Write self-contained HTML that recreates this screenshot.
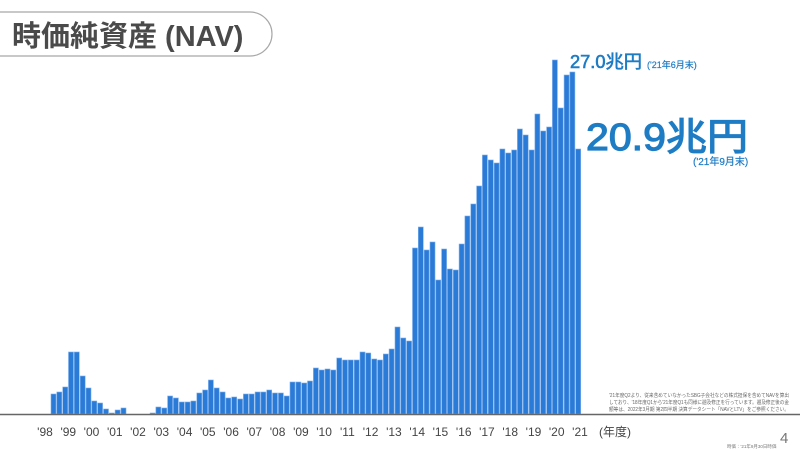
<!DOCTYPE html>
<html><head><meta charset="utf-8"><style>
html,body{margin:0;padding:0;background:#fff;}
svg{display:block;}
</style></head><body>
<svg width="800" height="450" viewBox="0 0 800 450" xmlns="http://www.w3.org/2000/svg" font-family="Liberation Sans, Noto Sans CJK JP, sans-serif">
<rect width="800" height="450" fill="#fff"/>
<path d="M-10 12 H250 A22 22 0 0 1 250 56 H-10" fill="#fff" stroke="#a8a8a8" stroke-width="1.2"/>
<text x="12" y="46" font-size="29" font-weight="bold" fill="#4a4a4a">時価純資産 (NAV)</text>
<g fill="#2a7ad8" stroke="#7fb0ea" stroke-width="0.6">
<rect x="51" y="394" width="5" height="20"/><rect x="56.8" y="392" width="5" height="22"/><rect x="62.7" y="387" width="5" height="27"/><rect x="68.5" y="352" width="5" height="62"/><rect x="74.3" y="352" width="5" height="62"/><rect x="80.2" y="376" width="5" height="38"/><rect x="86" y="388" width="5" height="26"/><rect x="91.8" y="401" width="5" height="13"/><rect x="97.6" y="403" width="5" height="11"/><rect x="103.5" y="409" width="5" height="5"/><rect x="109.3" y="413" width="5" height="1"/><rect x="115.1" y="410" width="5" height="4"/><rect x="121" y="408" width="5" height="6"/>
<rect x="150.1" y="413" width="5" height="1"/><rect x="155.9" y="407" width="5" height="7"/><rect x="161.8" y="408" width="5" height="6"/><rect x="167.6" y="396" width="5" height="18"/><rect x="173.4" y="398" width="5" height="16"/><rect x="179.3" y="402" width="5" height="12"/><rect x="185.1" y="402" width="5" height="12"/><rect x="190.9" y="401" width="5" height="13"/><rect x="196.8" y="393" width="5" height="21"/><rect x="202.6" y="390" width="5" height="24"/><rect x="208.4" y="380" width="5" height="34"/><rect x="214.2" y="388" width="5" height="26"/><rect x="220.1" y="392" width="5" height="22"/><rect x="225.9" y="398" width="5" height="16"/><rect x="231.7" y="397" width="5" height="17"/><rect x="237.6" y="399" width="5" height="15"/><rect x="243.4" y="394" width="5" height="20"/><rect x="249.2" y="394" width="5" height="20"/><rect x="255.1" y="392" width="5" height="22"/><rect x="260.9" y="392" width="5" height="22"/><rect x="266.7" y="390" width="5" height="24"/><rect x="272.5" y="393" width="5" height="21"/><rect x="278.4" y="393" width="5" height="21"/><rect x="284.2" y="396" width="5" height="18"/><rect x="290" y="382" width="5" height="32"/><rect x="295.9" y="382" width="5" height="32"/><rect x="301.7" y="383" width="5" height="31"/><rect x="307.5" y="381" width="5" height="33"/><rect x="313.4" y="368" width="5" height="46"/><rect x="319.2" y="370" width="5" height="44"/><rect x="325" y="369" width="5" height="45"/><rect x="330.8" y="370" width="5" height="44"/><rect x="336.7" y="358" width="5" height="56"/><rect x="342.5" y="360" width="5" height="54"/><rect x="348.3" y="360" width="5" height="54"/><rect x="354.2" y="360" width="5" height="54"/><rect x="360" y="352" width="5" height="62"/><rect x="365.8" y="353" width="5" height="61"/><rect x="371.7" y="359" width="5" height="55"/><rect x="377.5" y="360" width="5" height="54"/><rect x="383.3" y="354" width="5" height="60"/><rect x="389.1" y="349" width="5" height="65"/><rect x="395" y="327" width="5" height="87"/><rect x="400.8" y="338" width="5" height="76"/><rect x="406.6" y="341" width="5" height="73"/><rect x="412.5" y="248" width="5" height="166"/><rect x="418.3" y="227" width="5" height="187"/><rect x="424.1" y="250" width="5" height="164"/><rect x="430" y="242" width="5" height="172"/><rect x="435.8" y="280" width="5" height="134"/><rect x="441.6" y="249" width="5" height="165"/><rect x="447.4" y="269" width="5" height="145"/><rect x="453.3" y="270" width="5" height="144"/><rect x="459.1" y="244" width="5" height="170"/><rect x="464.9" y="216" width="5" height="198"/><rect x="470.8" y="204" width="5" height="210"/><rect x="476.6" y="186" width="5" height="228"/><rect x="482.4" y="155" width="5" height="259"/><rect x="488.3" y="160" width="5" height="254"/><rect x="494.1" y="163" width="5" height="251"/><rect x="499.9" y="149" width="5" height="265"/><rect x="505.7" y="153" width="5" height="261"/><rect x="511.6" y="150" width="5" height="264"/><rect x="517.4" y="129" width="5" height="285"/><rect x="523.2" y="135" width="5" height="279"/><rect x="529.1" y="150" width="5" height="264"/><rect x="534.9" y="114" width="5" height="300"/><rect x="540.7" y="131" width="5" height="283"/><rect x="546.6" y="127" width="5" height="287"/><rect x="552.4" y="60" width="5" height="354"/><rect x="558.2" y="108" width="5" height="306"/><rect x="564.1" y="75" width="5" height="339"/><rect x="569.9" y="72" width="5" height="342"/><rect x="575.7" y="149" width="5" height="265"/>
</g>
<line x1="0" y1="414.5" x2="800" y2="414.5" stroke="#666" stroke-width="1.6"/>
<g font-size="12" fill="#444" text-anchor="middle">
<text x="45" y="436">'98</text><text x="68.3" y="436">'99</text><text x="91.5" y="436">'00</text><text x="114.8" y="436">'01</text><text x="138" y="436">'02</text><text x="161.3" y="436">'03</text><text x="184.6" y="436">'04</text><text x="207.8" y="436">'05</text><text x="231.1" y="436">'06</text><text x="254.3" y="436">'07</text><text x="277.6" y="436">'08</text><text x="300.9" y="436">'09</text><text x="324.1" y="436">'10</text><text x="347.4" y="436">'11</text><text x="370.6" y="436">'12</text><text x="393.9" y="436">'13</text><text x="417.2" y="436">'14</text><text x="440.4" y="436">'15</text><text x="463.7" y="436">'16</text><text x="486.9" y="436">'17</text><text x="510.2" y="436">'18</text><text x="533.5" y="436">'19</text><text x="556.7" y="436">'20</text><text x="580" y="436">'21</text>
</g>
<text x="599" y="436" font-size="12" fill="#444">(年度)</text>
<text x="780" y="443" font-size="15" fill="#777">4</text>
<text x="727" y="448" font-size="4.5" fill="#777">時価：'21年9月30日時価</text>
<g font-size="5" fill="#666">
<text x="609" y="397" textLength="180" lengthAdjust="spacingAndGlyphs">'21年度Q2より、従来含めていなかったSBG子会社などの株式担保を含めてNAVを算出</text>
<text x="609" y="404" textLength="180" lengthAdjust="spacingAndGlyphs">しており、'18年度Q1から'21年度Q1も同様に遡及修正を行っています。遡及修正後の金</text>
<text x="609" y="411" textLength="180" lengthAdjust="spacingAndGlyphs">額等は、2022年3月期 第2四半期 決算データシート「NAVとLTV」をご参照ください。</text>
</g>
<g fill="#1e7cc4" stroke="#1e7cc4">
<text x="570" y="68" font-size="18" stroke-width="0.6" textLength="72" lengthAdjust="spacingAndGlyphs">27.0兆円</text>
<text x="647" y="68" font-size="9" stroke-width="0.2">('21年6月末)</text>
<text x="586" y="150" font-size="38" stroke-width="1.2" textLength="162" lengthAdjust="spacingAndGlyphs">20.9兆円</text>
<text x="693" y="165" font-size="10" stroke-width="0.2">('21年9月末)</text>
</g>
</svg>
</body></html>
